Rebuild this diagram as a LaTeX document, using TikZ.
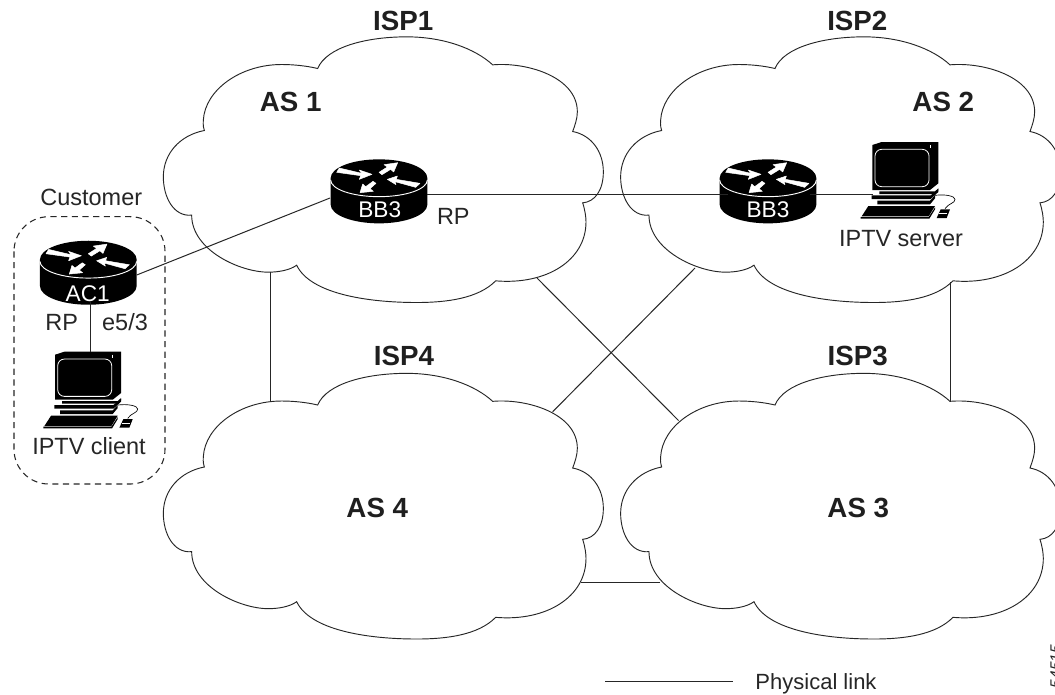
\documentclass[tikz,border=0pt]{standalone}
\usepackage{fontspec}
\setmainfont{Liberation Sans}
\newcommand{\ispcloud}{
  (503,195) .. controls (530,130) and (650,100) .. (770,100)
  .. controls (880,100) and (975,135) .. (1028,184)
  .. controls (1130,175) and (1282,220) .. (1282,325)
  .. controls (1282,345) and (1275,365) .. (1268,384)
  .. controls (1325,395) and (1360,445) .. (1360,505)
  .. controls (1360,560) and (1335,595) .. (1298,598)
  .. controls (1305,620) and (1308,640) .. (1308,655)
  .. controls (1308,770) and (1190,845) .. (1037,832)
  .. controls (985,885) and (890,897) .. (800,897)
  .. controls (650,897) and (480,870) .. (440,785)
  .. controls (420,800) and (385,806) .. (355,806)
  .. controls (270,806) and (125,740) .. (125,635)
  .. controls (70,640) and (40,580) .. (40,520)
  .. controls (40,450) and (90,395) .. (163,381)
  .. controls (158,365) and (160,355) .. (160,350)
  .. controls (165,260) and (270,183) .. (395,183)
  .. controls (430,183) and (470,187) .. (503,195) -- cycle
}
\tikzset{
  zoomunits/.style={x=0.25pt,y=-0.25pt},
  linkline/.style={draw=black!85,line width=0.75pt},
  cloudline/.style={draw=black!85,line width=0.7pt},
  big/.style={font=\fontsize{20.8pt}{24pt}\selectfont\bfseries,text=black!88,anchor=base,inner sep=0pt},
  small/.style={font=\fontsize{17.6pt}{20pt}\selectfont,text=black!85,anchor=base,inner sep=0pt},
  inrouter/.style={font=\fontsize{17pt}{20pt}\selectfont,text=white,anchor=base,inner sep=0pt},
  arrowface/.style={fill=white,draw=white,line width=0.35pt,line join=round},
  pics/router/.style={code={
    \begin{scope}[zoomunits]
      \fill[black] (-145,0) -- (-145,80) arc[x radius=145,y radius=56,start angle=180,end angle=0] -- (145,0)
        arc[x radius=145,y radius=56,start angle=0,end angle=-180] -- cycle;
      \draw[white,line width=0.7pt] (-145,6) arc[x radius=145,y radius=50,start angle=180,end angle=0];
      \path[arrowface] (-119,-30) -- (-52,-14) -- (-59,-24) -- (-21,-11) -- (-59,4) -- (-55,-7) -- (-127,-17) -- cycle;
      \path[arrowface] (56,-46) -- (15,-40) -- (25,-33) -- (0,-17) -- (9,-10) -- (35,-26) -- (44,-18) -- cycle;
      \path[arrowface] (-57,44) -- (-17,40) -- (-27,32) -- (-9,16) -- (-18,10) -- (-40,26) -- (-49,18) -- cycle;
      \path[arrowface] (25,4) -- (55,-6) -- (52,4) -- (123,16) -- (110,28) -- (48,11) -- (51,20) -- cycle;
    \end{scope}
  }},
  pics/computer/.style={code={
    \begin{scope}[zoomunits]
      \fill[black] (157,75) -- (185,66) -- (355,66) -- (355,190) -- (330,210) -- (157,210) -- cycle;
      \draw[white,line width=0.5pt] (330,75) -- (330,84);
      \draw[white,line width=0.6pt,rounded corners=5pt] (165,88) rectangle (327,200);
      \fill[black] (178,214) -- (345,214) -- (355,205) -- (355,211) -- (345,222) -- (178,222) -- cycle;
      \fill[black] (155,226) -- (332,226) -- (355,208) -- (355,216) -- (332,237) -- (155,237) -- cycle;
      \fill[black] (172,242) -- (330,242) -- (345,226) -- (345,235) -- (330,253) -- (172,253) -- cycle;
      \fill[black] (145,258) -- (345,258) -- (326,289) -- (125,289) -- cycle;
      \fill[black] (122,291) -- (326,291) -- (345,262) -- (345,268) -- (328,296) -- (122,296) -- cycle;
      \fill[black] (362,268) -- (390,268) -- (380,294) -- (350,294) -- cycle;
      \draw[white,line width=0.4pt] (358,280) -- (382,280);
      \draw[black,line width=0.5pt] (345,226) .. controls (375,222) and (405,228) .. (405,238)
        .. controls (405,250) and (385,250) .. (375,266);
    \end{scope}
  }},
}
\begin{document}
\begin{tikzpicture}[x=0.75pt,y=-0.75pt]
\useasboundingbox[fill=white] (0,0) rectangle (1055,694);

% clouds
\begin{scope}[shift={(150,3.5)},zoomunits]\draw[cloudline] \ispcloud;\end{scope}
\begin{scope}[shift={(607.3,3.5)},zoomunits]\draw[cloudline] \ispcloud;\end{scope}
\begin{scope}[shift={(150,340)},zoomunits]\draw[cloudline] \ispcloud;\end{scope}
\begin{scope}[shift={(607.3,340)},zoomunits]\draw[cloudline] \ispcloud;\end{scope}

% customer site
\draw[black!85,line width=0.8pt,dash pattern=on 4.6pt off 3.4pt,rounded corners=26pt] (14,216.7) rectangle (165,484);

% connector end points
\coordinate (acE) at (136.7,275);
\coordinate (acS) at (90.5,302);
\coordinate (clientN) at (90.5,352);
\coordinate (bbaW) at (330,198);
\coordinate (bbaE) at (427,194.5);
\coordinate (bbbW) at (728,194.5);
\coordinate (bbbE) at (810,194.5);
\coordinate (serverW) at (873,194.5);
\coordinate (asaS) at (270.5,272);
\coordinate (asdN) at (270.5,401);
\coordinate (asaSE) at (537,278);
\coordinate (ascNW) at (678.5,420.5);
\coordinate (asbSW) at (695,268);
\coordinate (asdNE) at (552.7,411.7);
\coordinate (asbS) at (950.5,282);
\coordinate (ascN) at (950.5,401);
\coordinate (asdE) at (580.7,582.5);
\coordinate (ascW) at (660,582.5);
\coordinate (legendA) at (605,681.5);
\coordinate (legendB) at (733,681.5);

% devices
\pic (routerA) at (379,178) {router};
\pic (routerB) at (768,178) {router};
\pic (routerC) at (88.3,259.4) {router};
\pic (server) at (820,120) {computer};
\pic (client) at (2.7,329.7) {computer};

% connectors
\draw[linkline] (acE) -- (bbaW);
\draw[linkline] (bbaE) -- (bbbW);
\draw[linkline] (bbbE) -- (serverW);
\draw[linkline] (acS) -- (clientN);
\draw[linkline] (asaS) -- (asdN);
\draw[linkline] (asaSE) -- (ascNW);
\draw[linkline] (asbSW) -- (asdNE);
\draw[linkline] (asbS) -- (ascN);
\draw[linkline] (asdE) -- (ascW);
\draw[linkline] (legendA) -- (legendB);

% texts
\node[big] (isp1) at (403.3,30) {ISP1};
\node[big] (isp2) at (857.3,30) {ISP2};
\node[big] (isp4) at (404,365.7) {ISP4};
\node[big] (isp3) at (857.7,365.7) {ISP3};
\node[big] (as1) at (290.7,111) {AS 1};
\node[big] (as2) at (943.3,111) {AS 2};
\node[big] (as4) at (377.3,517.7) {AS 4};
\node[big] (as3) at (858.3,517.7) {AS 3};
\node[inrouter] (bbA) at (379.7,217) {BB3};
\node[inrouter] (bbB) at (768,217) {BB3};
\node[inrouter] (ac1) at (87.7,301) {AC1};
\node[small] (rpA) at (453.3,224) {RP};
\node[small] (srvT) at (901,246.5) {IPTV server};
\node[small] (rpC) at (61.7,330.8) {RP};
\node[small] (e53) at (125,330.8) {e5/3};
\node[small] (cliT) at (89,454.5) {IPTV client};
\node[small] (cust) at (91.3,205) {Customer};
\node[small,font=\fontsize{16.5pt}{20pt}\selectfont] (legendT) at (816,689.5) {Physical link};
\node[rotate=90,anchor=base,inner sep=0pt,font=\fontsize{11.6pt}{14pt}\selectfont\itshape,text=black!85] (figno) at (1061,666.5) {54515};
\end{tikzpicture}
\end{document}
